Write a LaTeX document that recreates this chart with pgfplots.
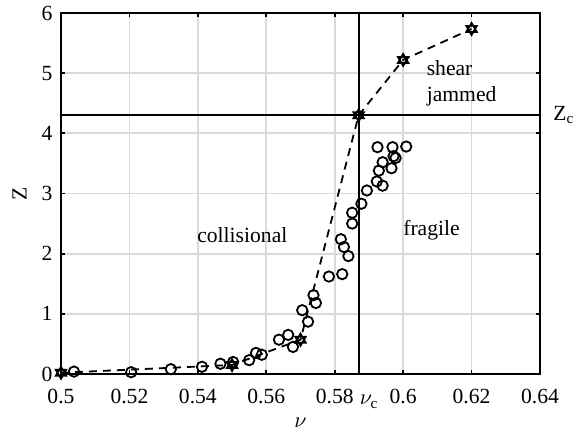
\documentclass[border=0pt]{standalone}
\usepackage{pgfplots}
\pgfplotsset{compat=1.18}
\usepackage{fontspec}
\setmainfont{Liberation Serif}
\pgfdeclareplotmark{hexagram}{%
  \pgfpathmoveto{\pgfqpointpolar{90}{\pgfplotmarksize}}%
  \pgfpathlineto{\pgfqpointpolar{210}{\pgfplotmarksize}}%
  \pgfpathlineto{\pgfqpointpolar{330}{\pgfplotmarksize}}%
  \pgfpathclose
  \pgfpathmoveto{\pgfqpointpolar{270}{\pgfplotmarksize}}%
  \pgfpathlineto{\pgfqpointpolar{30}{\pgfplotmarksize}}%
  \pgfpathlineto{\pgfqpointpolar{150}{\pgfplotmarksize}}%
  \pgfpathclose
  \pgfusepathqstroke}
\definecolor{gridgray}{RGB}{218,218,218}
\begin{document}
\begin{tikzpicture}[font=\fontsize{10.8}{13}\selectfont]
\useasboundingbox (-30.5pt,-29.5pt) rectangle (259pt,187pt);
\begin{axis}[
  at={(0,0)}, anchor=south west,
  scale only axis, width=239.5pt, height=180.5pt,
  xmin=0.5, xmax=0.64, ymin=0, ymax=6,
  xtick={0.5,0.52,0.54,0.56,0.58,0.6,0.62,0.64},
  xticklabels={0.5,0.52,0.54,0.56,0.58,0.6,0.62,0.64},
  ytick={0,1,2,3,4,5,6},
  /pgf/number format/assume math mode=true,
  grid=major,
  major grid style={gridgray, line width=0.9pt},
  tick align=inside,
  major tick length=2pt,
  tick style={black, line width=0.9pt},
  axis line style={line width=1.1pt},
  xticklabel style={yshift=-4pt, font=\fontsize{10.8}{13}\selectfont},
  yticklabel style={xshift=-0.8pt, font=\fontsize{10.8}{13}\selectfont},
  clip=false,
]
% reference lines
\addplot[black, line width=1pt] coordinates {(0.587,0) (0.587,6)};
\addplot[black, line width=1pt] coordinates {(0.5,4.3) (0.64,4.3)};
% circles
\addplot[only marks, mark=o, mark size=2.6pt, line width=0.9pt, black] coordinates {
(0.5038,0.04) (0.5205,0.03) (0.5321,0.08) (0.5412,0.12) (0.5466,0.17)
(0.5503,0.20) (0.5550,0.23) (0.5570,0.35) (0.5587,0.32) (0.5637,0.57)
(0.5664,0.65) (0.5678,0.45) (0.5705,1.06) (0.5722,0.87) (0.5738,1.31)
(0.5745,1.18) (0.5783,1.62) (0.5822,1.66) (0.5818,2.24) (0.5827,2.11)
(0.5840,1.96) (0.5851,2.50) (0.5851,2.68) (0.5878,2.83) (0.5894,3.05)
(0.5923,3.20) (0.5929,3.38) (0.5940,3.13) (0.5940,3.52) (0.5925,3.77)
(0.5966,3.42) (0.5969,3.77) (0.5972,3.62) (0.5978,3.59) (0.6009,3.78)
};
% dashed line with hexagrams
\addplot[black, line width=0.9pt, dash pattern=on 4pt off 3pt,
  mark=hexagram, mark size=3pt, mark options={solid, line width=0.9pt}] coordinates {
(0.5,0.02) (0.55,0.15) (0.57,0.57) (0.587,4.3) (0.6,5.22) (0.62,5.735)
};
% annotations
\node at (axis cs:0.553,2.31) {collisional};
\node at (axis cs:0.6083,2.39) {fragile};
\node[anchor=west, align=left, inner sep=0pt] at (axis cs:0.6068,4.83) {shear\\jammed};
\node[anchor=base west, inner sep=0pt] at (axis cs:0.64,4.3) [xshift=6.5pt, yshift=-2.5pt] {Z\textsubscript{c}};
\node[anchor=base west, inner sep=0pt] at (axis cs:0.5872,0) [yshift=-15.5pt] {$\nu_{\mathrm{c}}$};
\node[anchor=north, inner sep=0pt] at ([yshift=-22pt]axis description cs:0.5,0) {$\nu$};
\node[rotate=90, inner sep=0pt] at ([xshift=-20.75pt]axis description cs:0,0.5) {Z};
\end{axis}
\end{tikzpicture}
\end{document}
